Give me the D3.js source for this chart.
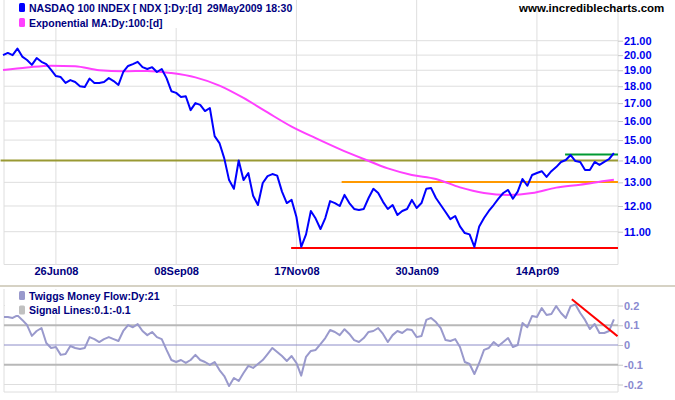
<!DOCTYPE html>
<html>
<head>
<meta charset="utf-8">
<script src="https://cdn.jsdelivr.net/npm/d3@7"></script>
<style>
    body { margin: 0; background: #fff; }
    svg { display: block; }
    text { font-family: "Liberation Sans", Arial, sans-serif; font-weight: bold; }
</style>
</head>
<body>
<svg id="chart"></svg>
<script>
// values, one point every 2 trading days from 27May08
const dayStep = 2;
const priceValues = [
    20.0, 20.15, 20.0, 20.45, 19.9, 19.67, 19.35, 19.8, 19.55, 19.4,
    19.02, 18.63, 18.57, 18.2, 18.38, 18.26, 18.0, 17.95, 18.47, 18.2,
    18.2, 18.26, 18.5, 18.32, 18.08, 18.89, 19.28, 19.4, 19.55, 19.2,
    19.08, 19.2, 18.89, 19.08, 18.5, 17.7, 17.6, 17.36, 17.4, 16.6,
    17.0, 16.9, 16.55, 16.72, 15.2, 14.85, 14.1, 13.1, 12.72, 14.0,
    13.1, 13.42, 12.42, 12.04, 12.97, 13.28, 13.37, 13.3, 12.6, 12.12,
    12.25, 11.56, 10.45, 10.9, 11.8, 11.5, 11.1, 11.52, 12.2, 12.12,
    12.0, 12.46, 12.12, 11.88, 11.84, 11.88, 12.33, 12.72, 12.54, 12.17,
    11.88, 12.04, 11.64, 11.8, 11.88, 12.25, 11.92, 12.12, 12.72, 12.75,
    12.33, 12.04, 11.76, 11.48, 11.6, 11.2, 10.95, 10.9, 10.45, 11.2,
    11.52, 11.8, 12.04, 12.3, 12.54, 12.67, 12.3, 12.6, 13.15, 12.85,
    13.33, 13.42, 13.5, 13.24, 13.5, 13.69, 13.93, 14.02, 14.26, 13.97,
    13.93, 13.56, 13.56, 13.93, 13.79, 13.93, 14.07, 14.35
];
const maDays = [0, 10, 20, 30, 40, 50, 60, 70, 80, 90, 100, 110, 120, 130,
    140, 150, 160, 170, 180, 190, 200, 210, 220, 230, 240, 250, 254];
const maValues = [
    19.02, 19.18, 19.3, 19.26, 19.0, 18.93, 18.96, 18.82, 18.55, 18.04,
    17.3, 16.47, 15.7, 15.1, 14.55, 14.07, 13.63, 13.33, 13.15, 12.78,
    12.54, 12.46, 12.54, 12.77, 12.9, 13.06, 13.12
];
const flowValues = [
    0.142, 0.142, 0.137, 0.15, 0.127, 0.101, 0.046, 0.071, 0.086, 0.01,
    -0.015, -0.01, -0.05, -0.046, -0.005, -0.015, -0.02, -0.015, 0.04, 0.03,
    0.015, 0.03, 0.04, 0.03, 0.02, 0.071, 0.101, 0.09, 0.106, 0.071,
    0.05, 0.066, 0.04, 0.03, -0.025, -0.076, -0.086, -0.076, -0.091, -0.076,
    -0.05, -0.076, -0.086, -0.101, -0.086, -0.127, -0.157, -0.208, -0.167, -0.182,
    -0.142, -0.106, -0.116, -0.096, -0.076, -0.046, -0.015, -0.035, -0.056, -0.081,
    -0.056, -0.091, -0.155, -0.06, -0.03, -0.025, 0.005, 0.035, 0.076, 0.066,
    0.05, 0.08, 0.056, 0.025, 0.015, 0.035, 0.066, 0.071, 0.086, 0.056,
    0.015, 0.05, 0.071, 0.061, 0.08, 0.076, 0.04, 0.046, 0.127, 0.137,
    0.116, 0.086, 0.025, 0.02, 0.03, -0.01, -0.086, -0.096, -0.147, -0.091,
    -0.025, -0.015, 0.015, -0.005, 0.015, 0.035, -0.01, 0.0, 0.111, 0.09,
    0.147, 0.142, 0.187, 0.152, 0.157, 0.197, 0.162, 0.137, 0.197, 0.205,
    0.162, 0.127, 0.081, 0.106, 0.061, 0.061, 0.071, 0.13
];
const dateTickDays = [22, 72, 122, 172, 222];
const dateTickLabels = ['26Jun08', '08Sep08', '17Nov08', '30Jan09', '14Apr09'];
const priceTicks = [11, 12, 13, 14, 15, 16, 17, 18, 19, 20, 21];
const flowTicks = [-0.2, -0.1, 0, 0.1, 0.2];
const signalLevels = [0.1, -0.1];
// hand drawn lines: [price, first day, last day]
const priceLevels = [[14.0, -1, 255.7], [13.02, 140.8, 255.7], [10.41, 119.8, 255.7], [14.28, 233.7, 255.7]];
const flowTrend = [[236.5, 0.232], [255.5, 0.045]];

class IndexChart {
    constructor(config) {
        this.config = {
            parent: config.parent,
            width: config.width || 675,
            height: config.height || 400
        };
        this.init();
    }

    init() {
        let self = this;

        self.svg = d3.select(self.config.parent)
            .attr('width', self.config.width)
            .attr('height', self.config.height);

        self.left = 4;
        self.right = 618;
        self.main = { top: 0, bottom: 264.5 };
        self.lower = { top: 289, bottom: 392 };

        self.xscale = d3.scaleLinear()
            .domain([0, 254])
            .range([3, 613.9]);

        self.yscale_price = d3.scaleLog()
            .domain([11, 21])
            .range([231.7, 40.7]);

        self.yscale_flow = d3.scaleLinear()
            .domain([-0.2, 0.2])
            .range([384.5, 305.5]);

        self.defs = self.svg.append('defs');
        self.defs.append('clipPath').attr('id', 'clip-main')
            .append('rect')
            .attr('x', 0).attr('y', self.main.top)
            .attr('width', self.right).attr('height', self.main.bottom - self.main.top);
        self.defs.append('clipPath').attr('id', 'clip-lower')
            .append('rect')
            .attr('x', self.left).attr('y', self.lower.top)
            .attr('width', self.right - self.left).attr('height', self.lower.bottom - self.lower.top);
    }

    render() {
        let self = this;
        const grid = '#dedede';

        // grid, main panel
        self.svg.append('g').selectAll('line')
            .data(priceTicks)
            .join('line')
            .attr('x1', self.left).attr('x2', self.right)
            .attr('y1', d => self.yscale_price(d)).attr('y2', d => self.yscale_price(d))
            .attr('stroke', grid);

        [self.main, self.lower].forEach(p => {
            self.svg.append('g').selectAll('line')
                .data(dateTickDays)
                .join('line')
                .attr('x1', d => self.xscale(d)).attr('x2', d => self.xscale(d))
                .attr('y1', p.top).attr('y2', p.bottom)
                .attr('stroke', grid);
            self.svg.append('path')
                .attr('d', `M${self.left},${p.top}V${p.bottom}H${self.right}V${p.top}`)
                .attr('fill', 'none')
                .attr('stroke', grid);
        });

        // grid, lower panel
        self.svg.append('g').selectAll('line')
            .data(flowTicks.filter(d => Math.abs(d) > 0.15))
            .join('line')
            .attr('x1', self.left).attr('x2', self.right)
            .attr('y1', d => self.yscale_flow(d)).attr('y2', d => self.yscale_flow(d))
            .attr('stroke', grid);

        self.svg.append('g').selectAll('line')
            .data(signalLevels)
            .join('line')
            .attr('x1', self.left).attr('x2', self.right)
            .attr('y1', d => self.yscale_flow(d)).attr('y2', d => self.yscale_flow(d))
            .attr('stroke', '#b8b8b8')
            .attr('stroke-width', 2);

        self.svg.append('line')
            .attr('x1', self.left).attr('x2', self.right)
            .attr('y1', self.yscale_flow(0)).attr('y2', self.yscale_flow(0))
            .attr('stroke', '#8c8cc8');

        // separator between panels
        self.svg.append('line')
            .attr('x1', 0).attr('x2', self.config.width)
            .attr('y1', 286).attr('y2', 286)
            .attr('stroke', '#d6d2c4')
            .attr('stroke-width', 2);

        // price lines
        const main = self.svg.append('g').attr('clip-path', 'url(#clip-main)');

        const levelColors = ['#999933', '#ff9900', '#ff0000', '#009933'];
        main.selectAll('.level')
            .data(priceLevels)
            .join('line')
            .attr('class', 'level')
            .attr('x1', d => self.xscale(d[1])).attr('x2', d => self.xscale(d[2]))
            .attr('y1', d => self.yscale_price(d[0])).attr('y2', d => self.yscale_price(d[0]))
            .attr('stroke', (d, i) => levelColors[i])
            .attr('stroke-width', 2);

        main.append('path')
            .datum(maValues)
            .attr('fill', 'none')
            .attr('stroke', '#ff40ff')
            .attr('stroke-width', 2)
            .attr('d', d3.line()
                .x((d, i) => self.xscale(maDays[i]))
                .y(d => self.yscale_price(d))
                .curve(d3.curveMonotoneX));

        main.append('path')
            .datum(priceValues)
            .attr('fill', 'none')
            .attr('stroke', '#0000ff')
            .attr('stroke-width', 2)
            .attr('stroke-linejoin', 'round')
            .attr('d', d3.line()
                .x((d, i) => self.xscale(i * dayStep))
                .y(d => self.yscale_price(d)));

        // money flow
        const lower = self.svg.append('g').attr('clip-path', 'url(#clip-lower)');

        lower.append('path')
            .datum(flowValues)
            .attr('fill', 'none')
            .attr('stroke', '#9999cc')
            .attr('stroke-width', 2)
            .attr('stroke-linejoin', 'round')
            .attr('d', d3.line()
                .x((d, i) => self.xscale(i * dayStep))
                .y(d => self.yscale_flow(d)));

        lower.append('path')
            .datum(flowTrend)
            .attr('fill', 'none')
            .attr('stroke', '#ff0000')
            .attr('stroke-width', 2)
            .attr('d', d3.line()
                .x(d => self.xscale(d[0]))
                .y(d => self.yscale_flow(d[1])));

        // axes
        const price_axis = d3.axisRight(self.yscale_price)
            .tickValues(priceTicks)
            .tickFormat(d3.format('.2f'))
            .tickSize(5)
            .tickPadding(1);
        const price_group = self.svg.append('g')
            .attr('transform', `translate(${self.right}, 0)`)
            .call(price_axis);
        price_group.select('.domain').remove();
        price_group.selectAll('line').attr('stroke', '#c8c8c8');
        price_group.selectAll('text')
            .attr('fill', '#0000ee')
            .style('font-size', '11px')
            .style('font-family', '"Liberation Sans", Arial, sans-serif');

        const flow_axis = d3.axisRight(self.yscale_flow)
            .tickValues(flowTicks)
            .tickFormat(d => String(d))
            .tickSize(5)
            .tickPadding(1);
        const flow_group = self.svg.append('g')
            .attr('transform', `translate(${self.right}, 0)`)
            .call(flow_axis);
        flow_group.select('.domain').remove();
        flow_group.selectAll('line').attr('stroke', '#c8c8c8');
        flow_group.selectAll('text')
            .attr('fill', '#8a8ad0')
            .style('font-size', '11px')
            .style('font-family', '"Liberation Sans", Arial, sans-serif');

        const date_axis = d3.axisBottom(self.xscale)
            .tickValues(dateTickDays)
            .tickFormat((d, i) => dateTickLabels[i])
            .tickSize(0)
            .tickPadding(3);
        const date_group = self.svg.append('g')
            .attr('transform', `translate(0, ${self.main.bottom})`)
            .call(date_axis);
        date_group.select('.domain').remove();
        date_group.selectAll('text')
            .attr('fill', '#000080')
            .style('font-size', '11px')
            .style('font-family', '"Liberation Sans", Arial, sans-serif');

        // legends
        self.svg.append('rect')
            .attr('x', self.left + 1).attr('y', 0)
            .attr('width', 258).attr('height', 28)
            .attr('fill', '#fff');
        self.svg.append('rect')
            .attr('x', 515).attr('y', 0)
            .attr('width', 158).attr('height', 10)
            .attr('fill', '#fff');
        self.svg.append('rect')
            .attr('x', self.left + 1).attr('y', self.lower.top + 1)
            .attr('width', 168).attr('height', 25)
            .attr('fill', '#fff');

        const legend = [
            { y: 3, color: '#0000ff', label: 'NASDAQ 100 INDEX [ NDX ]:Dy:[d]' },
            { y: 18, color: '#ff40ff', label: 'Exponential MA:Dy:100:[d]' },
            { y: 291, color: '#9999cc', label: 'Twiggs Money Flow:Dy:21' },
            { y: 305.5, color: '#c0c0c0', label: 'Signal Lines:0.1:-0.1' }
        ];
        const items = self.svg.append('g').selectAll('g')
            .data(legend)
            .join('g')
            .attr('transform', d => `translate(19, ${d.y})`);
        items.append('rect')
            .attr('width', 6).attr('height', 9)
            .attr('rx', 1.5)
            .attr('fill', d => d.color);
        items.append('text')
            .attr('x', 10).attr('y', 8.5)
            .attr('fill', '#000080')
            .style('font-size', '10.5px')
            .text(d => d.label);

        self.svg.append('text')
            .attr('x', 207).attr('y', 11.5)
            .attr('fill', '#000080')
            .style('font-size', '10.5px')
            .text('29May2009 18:30');

        self.svg.append('text')
            .attr('x', 519).attr('y', 11.5)
            .attr('fill', '#000')
            .style('font-size', '11.5px')
            .text('www.incrediblecharts.com');
    }
}

const chart = new IndexChart({ parent: '#chart', width: 675, height: 400 });
chart.render();
</script>
</body>
</html>
